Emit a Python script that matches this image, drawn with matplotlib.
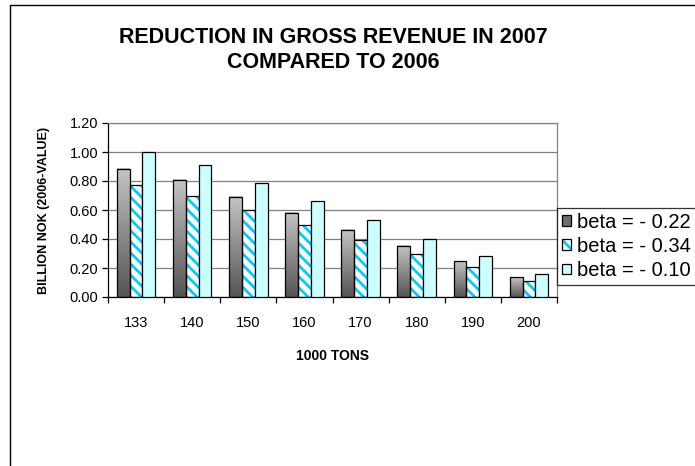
import numpy as np
import matplotlib
matplotlib.use("Agg")
import matplotlib.pyplot as plt
from matplotlib.colors import LinearSegmentedColormap
from matplotlib.patches import Rectangle, Patch
from matplotlib.ticker import FormatStrFormatter, MultipleLocator, FixedLocator

plt.rcParams['font.family'] = ['Liberation Sans', 'DejaVu Sans']
plt.rcParams['hatch.linewidth'] = 2.0

# data
categories = ['133', '140', '150', '160', '170', '180', '190', '200']
beta_022 = [0.885, 0.81, 0.69, 0.58, 0.465, 0.355, 0.245, 0.135]
beta_034 = [0.77, 0.70, 0.60, 0.495, 0.395, 0.30, 0.21, 0.11]
beta_010 = [1.00, 0.91, 0.785, 0.66, 0.53, 0.40, 0.28, 0.16]
series_labels = ['beta = - 0.22', 'beta = - 0.34', 'beta = - 0.10']

W, H = 695, 466
fig = plt.figure(figsize=(W / 100, H / 100), dpi=100)
fig.patch.set_facecolor('white')

# outer chart frame (runs off the right and bottom edges)
fig.add_artist(Rectangle((10 / W, -0.1), 1.2, (H - 5) / H + 0.1,
                         transform=fig.transFigure, fill=False,
                         edgecolor='black', linewidth=1.0, clip_on=False))

ax = fig.add_axes([108 / W, (H - 297) / H, 449 / W, 174 / H])

x = np.arange(len(categories))
bw = 0.228
cyan = '#00CCFF'
light_cyan = '#CCFFFF'
gray_cmap = LinearSegmentedColormap.from_list('g', ['#555555', '#c4c4c4'])

bars1 = ax.bar(x - bw, beta_022, bw, facecolor='none', edgecolor='black',
               linewidth=0.9, zorder=3)
grad = np.linspace(0, 1, 100).reshape(-1, 1)
for b in bars1:
    x0, w, h = b.get_x(), b.get_width(), b.get_height()
    ax.imshow(grad, extent=[x0, x0 + w, 0, h], origin='lower', aspect='auto',
              cmap=gray_cmap, zorder=2)

ax.bar(x, beta_034, bw, facecolor='white', edgecolor=cyan, hatch='\\\\\\',
       linewidth=0, zorder=2)
ax.bar(x, beta_034, bw, facecolor='none', edgecolor='black', linewidth=0.9, zorder=3)
ax.bar(x + bw, beta_010, bw, facecolor=light_cyan, edgecolor='black',
       linewidth=0.9, zorder=3)

ax.set_xlim(-0.5, len(categories) - 0.5)
ax.set_ylim(0, 1.2)
ax.yaxis.set_major_locator(MultipleLocator(0.2))
ax.yaxis.set_major_formatter(FormatStrFormatter('%.2f'))
ax.grid(axis='y', color='#808080', linewidth=0.9, zorder=0)
ax.set_axisbelow(True)

ax.set_xticks(x)
ax.set_xticklabels(categories)
ax.xaxis.set_minor_locator(FixedLocator(np.arange(-0.5, len(categories), 1.0)))
ax.tick_params(axis='x', which='major', length=0, pad=14, labelsize=10.5)
ax.tick_params(axis='x', which='minor', length=4, width=0.9, direction='out')
ax.tick_params(axis='y', length=4, width=0.9, direction='out', pad=3, labelsize=10.5)

for s in ['left', 'bottom']:
    ax.spines[s].set_color('black')
    ax.spines[s].set_linewidth(0.9)
for s in ['top', 'right']:
    ax.spines[s].set_color('#808080')
    ax.spines[s].set_linewidth(0.9)

fig.text(333 / W, 1 - 50 / H, 'REDUCTION IN GROSS REVENUE IN 2007\nCOMPARED TO 2006',
         ha='center', va='center', fontsize=15.5, fontweight='bold', linespacing=1.2)
fig.text(333 / W, 1 - 356 / H, '1000 TONS', ha='center', va='center',
         fontsize=10, fontweight='bold')
fig.text(44 / W, 1 - 210 / H, 'BILLION NOK (2006-VALUE)', ha='center', va='center',
         rotation=90, fontsize=9, fontweight='bold')

handles = [
    Patch(facecolor='#6e6e6e', edgecolor='black', linewidth=0.9),
    (Patch(facecolor='white', edgecolor=cyan, hatch='\\\\\\', linewidth=0),
     Patch(facecolor='none', edgecolor='black', linewidth=0.9)),
    Patch(facecolor=light_cyan, edgecolor='black', linewidth=0.9),
]
leg = fig.legend(handles, series_labels, loc='upper left',
                 bbox_to_anchor=(557 / W, 1 - 208 / H), borderaxespad=0,
                 fontsize=14.5, frameon=True, fancybox=False, shadow=False,
                 handlelength=0.45, handleheight=0.45, handletextpad=0.3,
                 labelspacing=0.25, borderpad=0.25)
leg.get_frame().set_edgecolor('black')
leg.get_frame().set_linewidth(0.9)

fig.savefig('out.png', dpi=100)
